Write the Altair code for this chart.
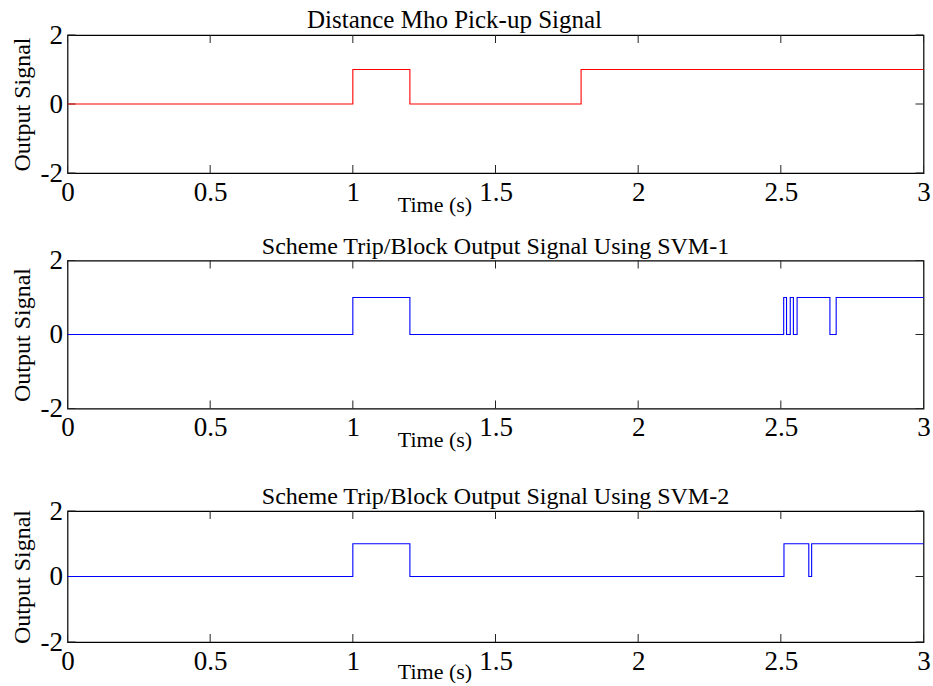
import altair as alt
import pandas as pd

# ---- data ----
x_ticks = [0, 0.5, 1, 1.5, 2, 2.5, 3]
y_ticks = [-2, 0, 2]

titles = [
    "Distance Mho Pick-up Signal",
    "Scheme Trip/Block Output Signal Using SVM-1",
    "Scheme Trip/Block Output Signal Using SVM-2",
]

t1 = [0.0, 1.0, 1.2, 1.8, 3.0]
s1 = [0, 1, 0, 1, 1]

t2 = [0.0, 1.0, 1.2, 2.510, 2.520, 2.533, 2.544, 2.557, 2.672, 2.694, 3.0]
s2 = [0, 1, 0, 1, 0, 1, 0, 1, 0, 1, 1]

t3 = [0.0, 1.0, 1.2, 2.511, 2.598, 2.608, 3.0]
s3 = [0, 1, 0, 1, 0, 1, 1]

colors = ["#ff0000", "#0000ff", "#0000ff"]

SERIF = "Liberation Serif"
W = 856
TICK_FS = 27
TITLE_FS = 24
XT_FS = 22
TICK_LEN = 8


def panel(t, s, color, title, h, title_extra=0, xtitle_y=31, title_fs=TITLE_FS, title_dx=0):
    df = pd.DataFrame({"t": t, "s": s})
    xs = alt.Scale(domain=[0, 3], nice=False, zero=False)
    ys = alt.Scale(domain=[-2, 2], nice=False, zero=False)
    xaxis = alt.Axis(
        values=x_ticks, labelExpr="toString(datum.value)", title="Time (s)",
        ticks=False, domain=False, grid=False, labelFlush=False,
        labelFont=SERIF, labelFontSize=TICK_FS, labelColor="black",
        labelPadding=6, labelOverlap=False,
        titleFont=SERIF, titleFontSize=XT_FS, titleFontWeight="normal",
        titleColor="black", titleX=367, titleY=xtitle_y, titleBaseline="middle",
        titleAlign="center",
    )
    yaxis = alt.Axis(
        values=y_ticks, labelExpr="toString(datum.value)", title="Output Signal",
        ticks=False, domain=False, grid=False, labelFlush=False,
        labelFont=SERIF, labelFontSize=TICK_FS, labelColor="black",
        labelPadding=5, labelOverlap=False, labelBaseline="middle",
        titleFont=SERIF, titleFontSize=TITLE_FS, titleFontWeight="normal",
        titleColor="black", titleX=-45, titleY=h / 2, titleAngle=270,
        titleBaseline="middle", titleAlign="center",
    )
    line = alt.Chart(df).mark_line(
        interpolate="step-after", color=color, strokeWidth=1.1
    ).encode(x=alt.X("t:Q", scale=xs, axis=xaxis), y=alt.Y("s:Q", scale=ys, axis=yaxis))

    xt = pd.DataFrame({"t": x_ticks})
    yt = pd.DataFrame({"s": y_ticks})
    tick_style = dict(color="#222222", strokeWidth=1)
    xb = alt.Chart(xt).mark_rule(**tick_style).encode(
        x="t:Q", y=alt.value(h), y2=alt.value(h - TICK_LEN))
    xtp = alt.Chart(xt).mark_rule(**tick_style).encode(
        x="t:Q", y=alt.value(0), y2=alt.value(TICK_LEN))
    yl = alt.Chart(yt).mark_rule(**tick_style).encode(
        y="s:Q", x=alt.value(0), x2=alt.value(TICK_LEN))
    yr = alt.Chart(yt).mark_rule(**tick_style).encode(
        y="s:Q", x=alt.value(W), x2=alt.value(W - TICK_LEN))

    text = [""] + [title] if title_extra else title
    tp = alt.TitleParams(
        text=text, font=SERIF, fontSize=title_fs, fontWeight="normal",
        color="black", anchor="middle", offset=-12, dx=title_dx,
        lineHeight=title_extra if title_extra else title_fs,
    )
    return alt.layer(xb, xtp, yl, yr, line).properties(
        width=W, height=h, title=tp,
        view=alt.ViewBackground(stroke="black", strokeWidth=1.2),
    )


p1 = panel(t1, s1, colors[0], titles[0], 138, title_fs=25, title_dx=-41)
p2 = panel(t2, s2, colors[1], titles[1], 148)
p3 = panel(t3, s3, colors[2], titles[2], 131, title_extra=15, xtitle_y=29)

chart = alt.vconcat(p1, p2, p3, spacing=17.5).properties(
    padding={"left": 9.5, "top": 7, "right": 0, "bottom": 0},
    background="white",
).configure_view(stroke="black", strokeWidth=1.2)

chart.save("out.html", embed_options={"renderer": "svg", "actions": False})
